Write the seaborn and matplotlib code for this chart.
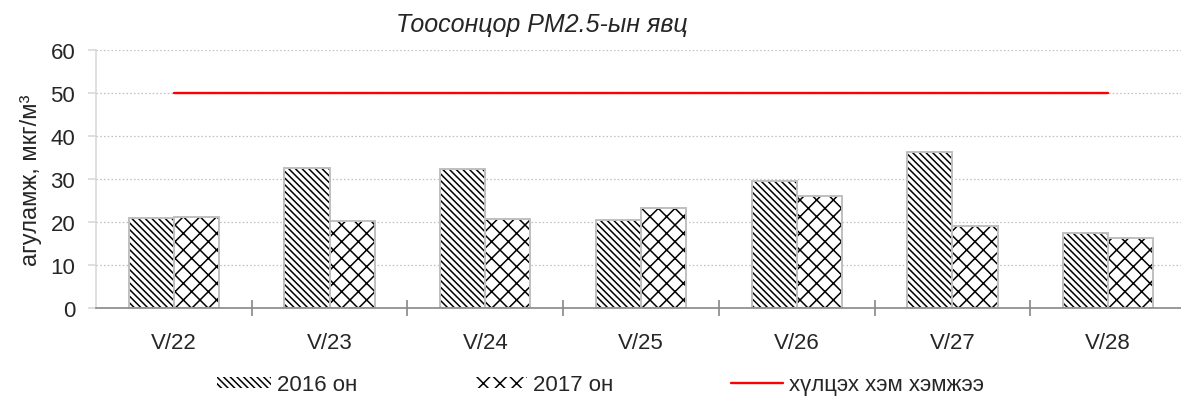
import matplotlib
matplotlib.use("Agg")
import matplotlib.pyplot as plt
import matplotlib.patches as mpatches
from matplotlib.lines import Line2D
import numpy as np
import pandas as pd
import seaborn as sns

# data
days = ["V/22", "V/23", "V/24", "V/25", "V/26", "V/27", "V/28"]
pm_2016 = [20.9, 32.6, 32.3, 20.5, 29.5, 36.2, 17.4]
pm_2017 = [21.2, 20.2, 20.7, 23.3, 26.1, 19.0, 16.3]
limit = [50, 50, 50, 50, 50, 50, 50]
series_names = ["2016 он", "2017 он"]
limit_name = "хүлцэх хэм хэмжээ"
title = "Тоосонцор PM2.5-ын явц"
ylabel = "агуламж, мкг/м³"

sns.set_style("white")
plt.rcParams["font.family"] = ["Liberation Sans", "DejaVu Sans"]
plt.rcParams["hatch.linewidth"] = 1.1

df = pd.DataFrame({
    "day": days * 2,
    "value": pm_2016 + pm_2017,
    "year": [series_names[0]] * len(days) + [series_names[1]] * len(days),
})

fig = plt.figure(figsize=(11.81, 4.02), dpi=100)
ax = fig.add_axes([96 / 1181, 93 / 402, 1090 / 1181, 258 / 402])

sns.barplot(
    data=df, x="day", y="value", hue="year", order=days, hue_order=series_names,
    palette=["white", "white"], edgecolor="black", linewidth=0,
    width=0.58, legend=False, ax=ax,
)

hatches = ["\\" * 5, "xx"]
for cont, h in zip(ax.containers, hatches):
    for p in cont:
        p.set_hatch(h)
        ax.add_patch(mpatches.Rectangle(
            p.get_xy(), p.get_width(), p.get_height(),
            fill=False, edgecolor="#bfbfbf", linewidth=1.4, zorder=p.get_zorder() + 0.1,
        ))

sns.lineplot(x=np.arange(len(days)), y=limit, color="#ff0000", linewidth=1.7, ax=ax)

ax.set_xlim(-0.5, len(days) - 0.5)
ax.set_ylim(0, 60)
ax.set_yticks(range(0, 61, 10))
ax.grid(axis="y", color="#bfbfbf", linestyle=(0, (1.2, 1.8)), linewidth=0.9)
ax.set_axisbelow(True)

for s in ["top", "right"]:
    ax.spines[s].set_visible(False)
ax.spines["left"].set_color("#d9d9d9")
ax.spines["left"].set_linewidth(1.2)
ax.spines["bottom"].set_color("#888888")
ax.spines["bottom"].set_linewidth(1.2)

ax.tick_params(axis="y", left=True, length=6, width=1.2, color="#d9d9d9",
               labelsize=16, pad=9)
ax.tick_params(axis="x", which="major", length=0, labelsize=16, pad=17)
ax.set_xticks(np.arange(len(days)) + 0.5, minor=True)
ax.tick_params(axis="x", which="minor", bottom=True, direction="inout",
               length=12, width=1.2, color="#888888")

ax.set_xlabel("")
ax.set_ylabel(ylabel, fontsize=17, labelpad=6)

fig.text(0.459, 0.938, title, fontsize=18, style="italic", ha="center", va="center")

h1 = mpatches.Patch(facecolor="white", edgecolor="black", linewidth=0, hatch=hatches[0])
h2 = mpatches.Patch(facecolor="white", edgecolor="black", linewidth=0, hatch=hatches[1])
h3 = Line2D([], [], color="#ff0000", linewidth=1.7)
legend_items = [(h1, series_names[0], 217 / 1181, 2.43), (h2, series_names[1], 475 / 1181, 2.35),
                (h3, limit_name, 731 / 1181, 2.35)]
for handle, label, xpos, hl in legend_items:
    fig.legend([handle], [label], loc="center left", bbox_to_anchor=(xpos, 0.04),
               frameon=False, fontsize=16, handlelength=hl, handleheight=0.45,
               handletextpad=0.25, borderaxespad=0, borderpad=0)

fig.savefig("out.png", dpi=100)
